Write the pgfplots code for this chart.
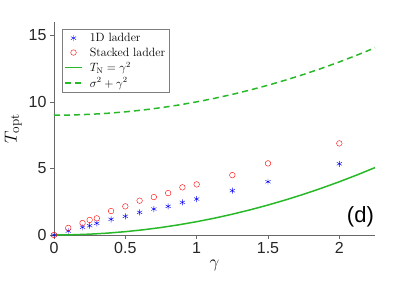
\documentclass[border=0pt]{standalone}
\usepackage{pgfplots}
\pgfplotsset{compat=1.18}
\usepackage{fontspec}
\setsansfont{Liberation Sans}
\definecolor{mgreen}{RGB}{40,185,40}
\definecolor{axgray}{RGB}{38,38,38}
\begin{document}
\begin{tikzpicture}
\begin{axis}[
  at={(0pt,0pt)}, anchor=south west,
  scale only axis, width=321pt, height=213pt,
  xmin=0, xmax=2.25, ymin=0, ymax=16,
  axis x line*=bottom, axis y line*=left,
  axis line style={draw=axgray!70, line width=0.6pt},
  xtick={0,0.5,1,1.5,2}, ytick={0,5,10,15},
  tick align=outside, major tick length=4pt,
  tick style={draw=axgray!70, line width=0.6pt},
  xticklabels={0,0.5,1,1.5,2},
  yticklabels={0,5,10,15},
  tick label style={font=\sffamily\fontsize{16}{18}\selectfont, text=axgray},
  xlabel={$\gamma$}, ylabel={$T_{\rm opt}$},
  label style={font=\fontsize{19}{21}\selectfont},
  xlabel style={yshift=1pt},
  ylabel style={yshift=0pt},
  legend style={at={(rel axis cs:0.025,0.967)}, anchor=north west,
    draw=axgray!60, fill=white, font=\fontsize{12}{14}\selectfont,
    row sep=0.5pt, inner sep=2pt,
    /tikz/every odd column/.append style={column sep=5pt}},
  legend cell align=left,
  clip=false,
]
\addplot[only marks, blue, mark=asterisk, mark size=3pt]
  coordinates {(0,0) (0.1,0.3) (0.2,0.58) (0.25,0.7) (0.3,0.88) (0.4,1.18) (0.5,1.4) (0.6,1.7) (0.7,1.95) (0.8,2.15) (0.9,2.45) (1,2.7) (1.25,3.33) (1.5,4.0) (2,5.35)};
\addlegendentry{1D ladder}
\addplot[only marks, red, mark=o, mark size=2.8pt]
  coordinates {(0,0) (0.1,0.53) (0.2,0.9) (0.25,1.13) (0.3,1.25) (0.4,1.8) (0.5,2.15) (0.6,2.58) (0.7,2.85) (0.8,3.15) (0.9,3.58) (1,3.8) (1.25,4.5) (1.5,5.38) (2,6.88)};
\addlegendentry{Stacked ladder}
\addplot[color=mgreen, draw=mgreen, line width=1.5pt, mark=none, solid]
  coordinates {(0,0) (0.125,0.015625) (0.25,0.0625) (0.375,0.140625) (0.5,0.25) (0.625,0.390625) (0.75,0.5625) (0.875,0.765625) (1,1) (1.125,1.265625) (1.25,1.5625) (1.375,1.890625) (1.5,2.25) (1.625,2.640625) (1.75,3.0625) (1.875,3.515625) (2,4) (2.125,4.515625) (2.25,5.0625)};
\addlegendentry{$T_{\rm N}=\gamma^2$}
\addplot[color=mgreen, draw=mgreen, line width=1.5pt, mark=none, dash pattern=on 6pt off 4pt]
  coordinates {(0,9) (0.125,9.015625) (0.25,9.0625) (0.375,9.140625) (0.5,9.25) (0.625,9.390625) (0.75,9.5625) (0.875,9.765625) (1,10) (1.125,10.265625) (1.25,10.5625) (1.375,10.890625) (1.5,11.25) (1.625,11.640625) (1.75,12.0625) (1.875,12.515625) (2,13) (2.125,13.515625) (2.25,14.0625)};
\addlegendentry{$\sigma^2+\gamma^2$}
\node[anchor=base east, font=\sffamily\fontsize{22}{24}\selectfont, text=black, inner sep=0pt] at (rel axis cs:0.997,0.06) {(d)};
\end{axis}
\pgfresetboundingbox
\path (-54pt,-48pt) rectangle (361pt,235pt);
\end{tikzpicture}
\end{document}
